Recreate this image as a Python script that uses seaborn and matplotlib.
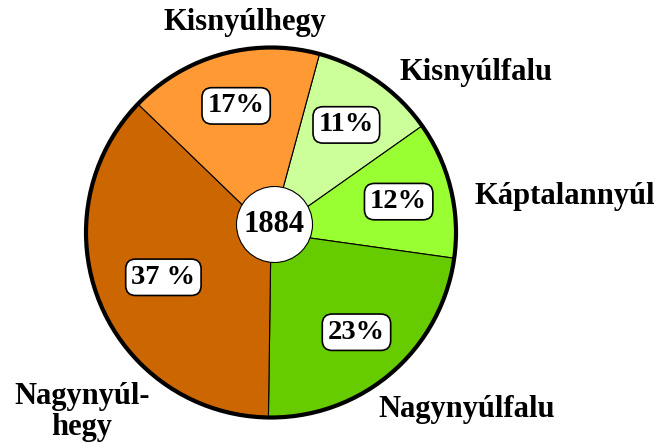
import numpy as np
import matplotlib
matplotlib.use("Agg")
import matplotlib.pyplot as plt
import seaborn as sns
from matplotlib.patches import Circle

# data (clockwise from the top)
places = ["Kisnyúlfalu", "Káptalannyúl", "Nagynyúlfalu", "Nagynyúl-\nhegy", "Kisnyúlhegy"]
shares = [11, 12, 23, 37, 17]
pct_text = ["11%", "12%", "23%", "37 %", "17%"]
colors = ["#CCFF99", "#99FF33", "#66CC00", "#CC6600", "#FF9933"]
year = "1884"

sns.set_style("white")
plt.rcParams['font.family'] = ['Liberation Serif', 'DejaVu Serif']
plt.rcParams['font.weight'] = 'bold'
plt.rcParams['text.color'] = 'black'

W, H = 659, 444
fig = plt.figure(figsize=(W / 100, H / 100), dpi=100)
ax = fig.add_axes([0, 0, 1, 1])

# pie centre and radius in pixels
cx, cy, R = 271, 232.5, 185.0
def px(x, y):
    return (x - cx) / R, (cy - y) / R

pal = sns.color_palette(colors)
wedges, _ = ax.pie(shares, colors=pal, startangle=90 - 15.2, counterclock=False,
                   radius=1.0, wedgeprops=dict(edgecolor="black", linewidth=0.8))
ax.add_patch(Circle((0, 0), 1.0, fill=False, edgecolor="black", linewidth=3.0, zorder=3))

# percentage boxes at the middle of each wedge
for w, t in zip(wedges, pct_text):
    mid = np.deg2rad((w.theta1 + w.theta2) / 2)
    d = 0.63 if w.theta2 - w.theta1 > 120 else 0.71
    ax.text(d * np.cos(mid), d * np.sin(mid), t, ha="center", va="center",
            fontsize=20.5, fontweight="bold", color="black", zorder=5,
            bbox=dict(boxstyle="round,pad=0.2,rounding_size=0.35", fc="white",
                      ec="black", lw=1.2))

# centre circle with year
ccx, ccy = px(274.5, 224.5)
ax.add_patch(Circle((ccx, ccy), 38 / R, facecolor="white", edgecolor="black",
                    linewidth=0.8, zorder=4))
ax.text(ccx, ccy, year, ha="center", va="center", fontsize=22,
        fontweight="bold", color="black", zorder=6)

# outer names
name_pos = [(476, 72), (565, 196), (467, 410), (82, 412), (245, 22)]
for name, (x, y) in zip(places, name_pos):
    lx, ly = px(x, y)
    ax.text(lx, ly, name, ha="center", va="center", fontsize=22,
            fontweight="bold", color="black", linespacing=1.05)

ax.set_xlim(px(0, 0)[0], px(W, 0)[0])
ax.set_ylim(px(0, H)[1], px(0, 0)[1])
ax.set_aspect("auto")
ax.axis("off")

fig.savefig("out.png", dpi=100)
